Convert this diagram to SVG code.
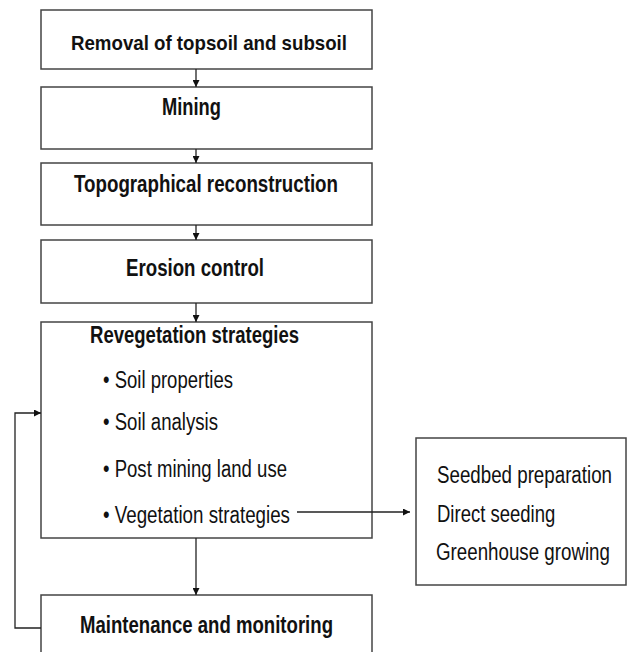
<svg xmlns="http://www.w3.org/2000/svg" width="629" height="652" viewBox="0 0 629 652">
<defs>
<style>
.box{fill:#fff;stroke:#444;stroke-width:1.5}
.t{font-family:"Liberation Sans",Arial,sans-serif;fill:#111;font-size:23px}
.b{font-weight:bold;font-size:23px}
.ln{fill:none;stroke:#222;stroke-width:1.3}
</style>
<marker id="ah" viewBox="0 0 10 10" refX="10" refY="5" markerWidth="7" markerHeight="7" markerUnits="userSpaceOnUse" orient="auto">
<path d="M0,0 L10,5 L0,10 z" fill="#111"/>
</marker>
</defs>
<rect width="629" height="652" fill="#fff"/>
<g id="n1">
<rect class="box" x="41" y="10" width="331" height="59"/>
<text class="t b" x="71" y="50" style="font-size:21px" textLength="276" lengthAdjust="spacingAndGlyphs">Removal of topsoil and subsoil</text>
</g>
<g id="n2">
<rect class="box" x="41" y="87" width="331" height="62"/>
<text class="t b" x="162" y="115" textLength="59" lengthAdjust="spacingAndGlyphs">Mining</text>
</g>
<g id="n3">
<rect class="box" x="41" y="163" width="331" height="62"/>
<text class="t b" x="74" y="192" textLength="264" lengthAdjust="spacingAndGlyphs">Topographical reconstruction</text>
</g>
<g id="n4">
<rect class="box" x="41" y="240" width="331" height="63"/>
<text class="t b" x="126" y="276" textLength="138" lengthAdjust="spacingAndGlyphs">Erosion control</text>
</g>
<g id="n5">
<rect class="box" x="41" y="322" width="331" height="216"/>
<text class="t b" x="90" y="343" textLength="209" lengthAdjust="spacingAndGlyphs">Revegetation strategies</text>
<text class="t" x="103" y="388" textLength="130" lengthAdjust="spacingAndGlyphs">• Soil properties</text>
<text class="t" x="103" y="430" textLength="115" lengthAdjust="spacingAndGlyphs">• Soil analysis</text>
<text class="t" x="103" y="477" textLength="184" lengthAdjust="spacingAndGlyphs">• Post mining land use</text>
<text class="t" x="103" y="523" textLength="187" lengthAdjust="spacingAndGlyphs">• Vegetation strategies</text>
</g>
<g id="n6">
<rect class="box" x="41" y="595" width="331" height="70"/>
<text class="t b" x="80" y="633" textLength="253" lengthAdjust="spacingAndGlyphs">Maintenance and monitoring</text>
</g>
<g id="n7">
<rect class="box" x="416" y="438" width="210" height="147"/>
<text class="t" transform="translate(437,483) scale(0.815,1)">Seedbed preparation</text>
<text class="t" transform="translate(437,522) scale(0.805,1)">Direct seeding</text>
<text class="t" transform="translate(436,560) scale(0.815,1)">Greenhouse growing</text>
</g>
<g id="connectors">
<line class="ln" x1="196" y1="69" x2="196" y2="87" marker-end="url(#ah)"/>
<line class="ln" x1="196" y1="149" x2="196" y2="163" marker-end="url(#ah)"/>
<line class="ln" x1="196" y1="225" x2="196" y2="240" marker-end="url(#ah)"/>
<line class="ln" x1="196" y1="303" x2="196" y2="322" marker-end="url(#ah)"/>
<line class="ln" x1="196" y1="538" x2="196" y2="595" marker-end="url(#ah)"/>
<polyline class="ln" points="41,628 15,628 15,413 41,413" marker-end="url(#ah)"/>
<line class="ln" x1="297" y1="512" x2="410" y2="512" marker-end="url(#ah)"/>
</g>
</svg>
